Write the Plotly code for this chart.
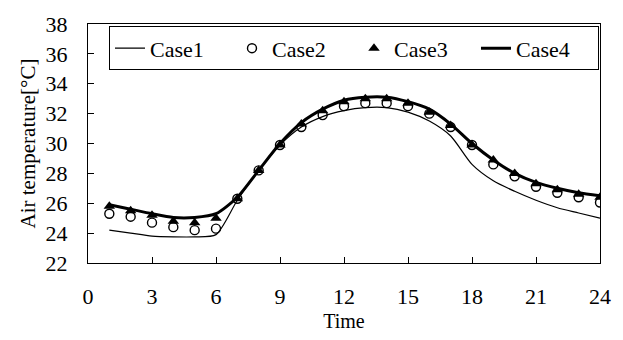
import plotly.graph_objects as go

hours = list(range(1, 25))
case1 = [24.2, 24.0, 23.8, 23.75, 23.75, 23.9, 26.2, 28.2, 29.9, 31.1, 31.8, 32.2,
         32.4, 32.4, 32.1, 31.5, 30.5, 28.6, 27.5, 26.8, 26.2, 25.7, 25.35, 25.0]
case2 = [25.3, 25.1, 24.7, 24.4, 24.2, 24.3, 26.3, 28.2, 29.9, 31.1, 31.9, 32.5,
         32.7, 32.7, 32.5, 32.0, 31.1, 29.9, 28.6, 27.8, 27.1, 26.7, 26.4, 26.05]
case3 = [25.8, 25.5, 25.2, 24.8, 24.7, 25.0, 26.3, 28.2, 29.9, 31.3, 32.2, 32.8,
         33.0, 33.0, 32.7, 32.1, 31.2, 29.9, 28.9, 28.0, 27.3, 26.9, 26.6, 26.4]
case4 = [25.9, 25.6, 25.3, 25.05, 25.05, 25.3, 26.4, 28.2, 30.0, 31.4, 32.3, 32.9,
         33.1, 33.1, 32.8, 32.3, 31.3, 30.0, 28.9, 28.0, 27.4, 27.0, 26.7, 26.5]
x_ticks = [0, 3, 6, 9, 12, 15, 18, 21, 24]
y_ticks = [22, 24, 26, 28, 30, 32, 34, 36, 38]

FONT = "Liberation Serif"

fig = go.Figure()
fig.add_trace(go.Scatter(x=hours, y=case1, name="Case1", mode="lines",
                         line=dict(color="black", width=1.2, shape="spline", smoothing=0.7)))
fig.add_trace(go.Scatter(x=hours, y=case2, name="Case2", mode="markers",
                         marker=dict(symbol="circle-open", size=9, color="black",
                                     line=dict(width=1.4, color="black"))))
fig.add_trace(go.Scatter(x=hours, y=case3, name="Case3", mode="markers",
                         marker=dict(symbol="triangle-up", size=10, color="black")))
fig.add_trace(go.Scatter(x=hours, y=case4, name="Case4", mode="lines",
                         line=dict(color="black", width=3, shape="spline", smoothing=0.7)))

fig.update_layout(
    width=623, height=340,
    margin=dict(l=88, r=20, t=16, b=75),
    paper_bgcolor="white", plot_bgcolor="white",
    font=dict(family=FONT, size=22, color="black"),
    showlegend=True,
    legend=dict(orientation="h", x=0.041, y=0.99, xanchor="left", yanchor="top",
                bordercolor="black", borderwidth=1, bgcolor="white",
                font=dict(family=FONT, size=22, color="black"),
                entrywidth=77, entrywidthmode="pixels", tracegroupgap=0),
    xaxis=dict(range=[0, 24], tickvals=x_ticks, ticktext=[str(v) for v in x_ticks],
               ticks="inside", ticklen=6, tickcolor="black", tickwidth=1,
               showline=True, linecolor="black", linewidth=1, mirror=True,
               showgrid=False, zeroline=False, ticklabelstandoff=14,
               title=dict(text="Time", font=dict(family=FONT, size=20), standoff=5),
               tickfont=dict(family=FONT, size=22)),
    yaxis=dict(range=[22, 38], tickvals=y_ticks, ticktext=[str(v) for v in y_ticks],
               ticks="inside", ticklen=6, tickcolor="black", tickwidth=1,
               showline=True, linecolor="black", linewidth=1, mirror=True,
               showgrid=False, zeroline=False, ticklabelstandoff=15,
               title=dict(text="Air temperature[°C]", font=dict(family=FONT, size=21), standoff=4),
               tickfont=dict(family=FONT, size=22)),
)

fig.write_html("out.html")
